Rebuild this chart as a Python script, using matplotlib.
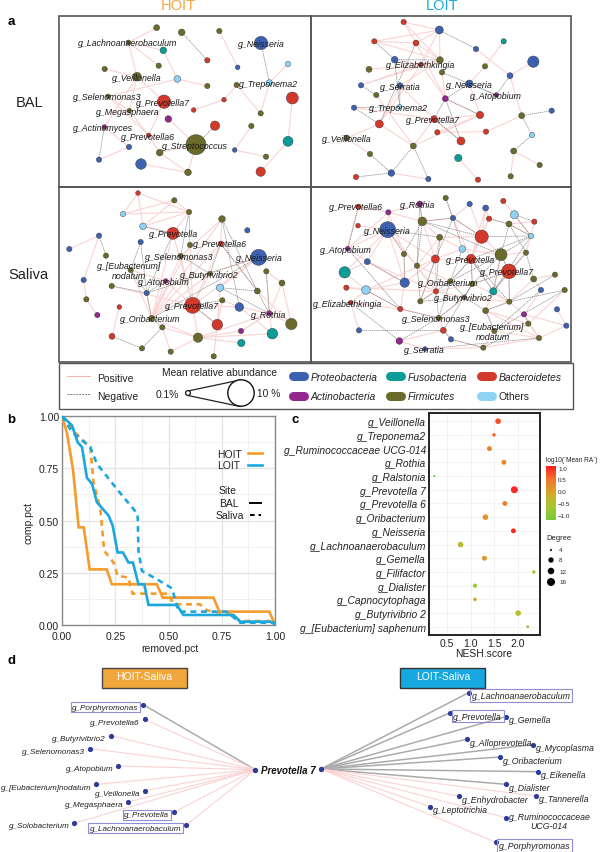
import numpy as np
import matplotlib
matplotlib.use("Agg")
import matplotlib.pyplot as plt
from matplotlib.colors import LinearSegmentedColormap, Normalize
from matplotlib.patches import Rectangle, Circle

plt.rcParams['font.family'] = ['Liberation Sans', 'DejaVu Sans']

W, H = 600, 853
PHY = {'P': '#3C62AF', 'U': '#0C9C98', 'B': '#D2392A', 'A': '#93278F', 'F': '#6A6B2B', 'O': '#8DD3F5'}
POS = '#FBD3D3'
NEG = '#858585'
ORANGE = '#F59B2B'
BLUE = '#1AA7E0'

# ---------- network a: HOIT BAL ----------
HB_x = [470,545,658,783,385,490,622,476,713,864,314,411,532,622,808,710,324,877,492,672,581,388,782,505,645,754,313,446,387,588,864,704,479,798,297,423,564,782]
HB_y = [86,100,96,132,130,154,184,200,205,195,210,233,240,261,251,258,292,297,308,302,333,335,343,360,380,381,384,409,444,437,427,453,461,473,482,495,520,518]
HB_r = [9,10,8,20,7,10,8,8,7,8,8,13,10,8,9,8,7,18,20,7,7,7,8,10,14,8,7,7,8,30,15,7,10,8,8,16,10,14]
HB_p = list("FFFPFUBFPOFFOFOFFBBBBFFABFABPFUPFFPPFB")
HB_pos = [(0,4),(4,5),(4,7),(4,11),(5,12),(10,11),(11,18),(11,21),(12,13),(12,16),(2,8),(9,14),(14,22),(15,19),(15,22),(19,20),(11,26),(18,27),(21,27),(16,21),(16,27),(26,28),(28,34),(23,29),(25,31),(31,33),(17,30),(30,37),(29,32),(29,36),(32,36),(35,36),(32,27)]
HB_neg = [(1,6),(3,14),(24,29),(26,34)]
HB_lab = [("g_Lachnoanaerobaculum",233,131),("g_Neisseria",713,134),("g_Veillonella",336,234),("g_Treponema2",716,252),("g_Selenomonas3",218,292),("g_Prevotella7",408,310),("g_Megasphaera",288,336),("g_Actinomyces",220,386),("g_Prevotella6",363,411),("g_Streptococcus",486,438)]

# ---------- network a: LOIT BAL ----------
LB_x = [296,403,208,333,513,596,269,405,348,685,192,411,540,615,168,285,493,214,574,147,284,421,740,525,650,223,387,397,543,681,125,468,325,195,626,460,704,259,153,370,519,617]
LB_y = [69,93,127,132,150,127,182,183,196,188,211,220,202,230,259,260,254,288,288,326,323,299,335,348,350,375,360,400,398,408,417,426,441,465,456,477,498,522,534,540,542,532]
LB_r = [8,12,8,9,8,8,10,10,7,17,9,8,8,9,8,9,11,8,7,8,7,9,8,11,9,12,10,8,8,8,9,12,9,8,9,11,8,10,8,8,8,8]
LB_p = list("BPBBPUPFBPFFFPPPPFAPOAPBFBBBBOFBFFFUFPBPBF")
LB_pos = [(0,1),(0,3),(0,7),(2,1),(2,3),(2,7),(3,7),(1,7),(3,1),(1,8),(4,13),(5,12),(12,16),(9,13),(13,24),(10,8),(14,8),(14,7),(15,7),(8,21),(6,8),(16,23),(21,23),(23,26),(23,32),(26,15),(26,19),(25,30),(25,15),(25,8),(30,33),(32,26),(32,25),(17,32),(24,28),(27,28),(27,23),(26,31),(35,40),(34,36),(34,41),(37,39),(21,3),(11,21)]
LB_neg = [(2,6),(6,7),(14,17),(19,20),(19,25),(25,3),(15,20),(11,18),(13,18),(16,21),(21,31),(21,26),(21,23),(26,31),(22,24),(24,29),(29,34),(32,37),(32,39),(33,37),(37,38),(1,4),(16,18),(20,6)]
LB_lab = [("g_Elizabethkingia",242,197),("g_Serratia",226,261),("g_Neisseria",424,255),("g_Atopobium",495,289),("g_Treponema2",191,324),("g_Prevotella7",303,360),("g_Veillonella",51,418)]

# ---------- network a: HOIT Saliva ----------
HS_x = [414,523,369,567,429,666,519,742,297,208,422,570,662,318,542,776,392,799,630,251,497,846,335,660,772,440,578,667,259,718,358,292,455,808,652,874,487,723,817,594,336,724,426,512,641]
HS_y = [27,49,90,84,127,105,148,139,155,195,174,183,179,215,216,220,258,262,269,288,291,297,306,311,321,327,364,349,346,369,369,393,403,388,422,420,430,441,449,461,457,477,493,503,517]
HS_r = [7,8,8,8,10,10,18,8,8,8,8,8,8,8,8,24,8,8,7,8,7,9,8,11,9,8,24,8,8,13,7,8,9,8,16,17,8,8,16,14,9,11,8,8,8]
HS_p = list("BFOFOFBPPPPFBFFPFFFPAFFOFPBFFPBAFABFFAUFBUFFF")
HS_pos = [(0,2),(0,4),(0,3),(1,2),(1,3),(1,4),(2,3),(3,4),(8,9),(8,19),(19,28),(28,31),(4,6),(3,6),(5,12),(5,14),(5,32),(12,32),(11,32),(14,32),(18,32),(6,32),(20,32),(16,32),(25,32),(12,26),(14,26),(11,26),(6,26),(18,26),(16,20),(20,26),(22,26),(26,29),(26,34),(27,29),(29,33),(17,33),(15,23),(15,18),(15,26),(23,34),(29,38),(33,38),(33,35),(21,33),(21,35),(17,21),(39,41),(39,37),(39,38),(39,43),(36,39),(36,43),(26,39),(34,44),(33,37),(30,40),(37,33),(24,35),(12,24),(27,34),(39,33),(32,39)]
HS_neg = [(3,11),(3,14),(4,6),(5,24),(5,29),(8,13),(10,16),(10,25),(12,18),(12,24),(15,25),(15,32),(16,25),(22,25),(23,24),(25,32),(6,25),(26,34),(17,33),(24,33),(27,26),(40,42),(42,36),(36,32),(14,18),(20,25),(23,33)]
HS_lab = [("g_Prevotella",446,149),("g_Prevotella6",580,179),("g_Selenomonas3",435,217),("g_Neisseria",707,221),("g_[Eubacterium]",291,243),("nodatum",337,274),("g_Butyrivibrio2",539,270),("g_Atopobium",415,292),("g_Prevotella7",494,365),("g_Rothia",752,390),("g_Oribacterium",361,404)]

# ---------- network a: LOIT Saliva ----------
LS_x = [422,595,494,542,344,160,250,628,444,552,688,352,612,159,248,530,404,678,472,128,588,663,297,391,498,187,336,119,612,750,299,686,436,502,124,183,708,779,393,565,478,346,613,137,286,542,756,657,401,670,784,162,415,568,702,283,438,360,535]
LS_y = [42,51,60,72,60,68,85,92,102,104,113,112,120,125,137,158,160,156,195,194,212,206,210,225,225,233,245,265,262,272,296,285,292,300,311,318,318,318,322,322,340,352,353,356,375,380,376,391,402,419,425,439,439,441,462,471,466,495,491]
LS_r = [8,8,8,9,9,8,8,12,8,8,8,13,9,7,24,20,9,8,10,7,18,8,8,12,14,9,8,17,22,8,14,9,8,8,8,13,8,8,8,11,7,8,8,7,8,9,8,8,8,8,8,8,9,8,8,10,8,7,8]
LS_p = list("FBPPABAOPBBFFBPBFOOAFFFBBPFUBFPFFFBOPFBUFFFBBFPAFFPPBFFAPPF")
LS_pos = [(6,14),(5,6),(6,11),(4,6),(6,22),(11,8),(11,16),(8,15),(8,2),(2,15),(3,15),(3,9),(9,15),(9,12),(12,17),(7,17),(1,7),(15,20),(15,24),(15,16),(16,23),(16,18),(18,23),(23,24),(23,30),(22,30),(14,25),(14,27),(14,30),(14,23),(25,27),(25,30),(27,35),(35,34),(35,30),(35,23),(34,38),(38,23),(38,26),(26,16),(26,32),(32,24),(24,33),(33,28),(28,20),(28,39),(39,42),(42,28),(42,31),(31,29),(31,36),(36,47),(47,50),(46,50),(47,54),(54,50),(54,49),(49,37),(42,47),(45,49),(45,42),(45,39),(45,54),(53,54),(53,45),(52,48),(48,44),(44,35),(52,55),(55,57),(57,58),(58,54),(58,53),(56,52),(56,58),(48,40),(40,38),(40,33),(38,33),(41,23),(41,38),(4,11),(11,23),(14,26),(14,38),(25,38),(19,25),(19,14),(5,19),(13,14),(6,19),(43,35),(43,44),(44,30),(51,43),(21,20),(21,28),(17,21),(10,17),(10,12),(8,24),(0,8),(18,20),(9,24),(3,24),(20,39),(24,39),(33,42),(40,42)]
LS_neg = [(0,8),(7,10),(7,17),(8,11),(8,18),(8,15),(8,23),(11,22),(11,26),(11,15),(11,20),(4,11),(4,26),(12,17),(12,20),(12,21),(17,20),(17,24),(17,39),(20,32),(20,33),(20,39),(20,28),(15,17),(24,32),(24,33),(24,42),(24,39),(28,33),(28,42),(21,31),(21,39),(18,32),(16,38),(23,41),(32,40),(32,48),(33,40),(33,52),(40,48),(40,41),(38,48),(14,22),(22,30),(25,30),(5,19),(19,44),(35,44),(44,48),(48,55),(55,43),(51,52),(52,56),(56,58),(45,40),(45,42),(45,53),(42,37),(42,29),(53,36),(53,37),(57,54),(58,49),(49,47),(26,41),(41,32),(16,14),(9,12)]
LS_lab = [("g_Prevotella6",73,68),("g_Rothia",285,61),("g_Neisseria",176,138),("g_Atopobium",45,195),("g_Prevotella",422,226),("g_Prevotella7",525,262),("g_Oribacterium",340,294),("g_Elizabethkingia",25,358),("g_Butyrivibrio2",386,341),("g_Selenomonas3",291,403),("g_[Eubacterium]",465,428),("nodatum",512,458),("g_Serratia",298,497)]

# ---------- panel b ----------
HB_rx = [0,.023,.052,.078,.102,.13,.21,.234,.445,.473,.711,.739,.973,1.0]
HB_ry = [1,.92,.742,.467,.467,.266,.266,.195,.195,.131,.131,.064,.064,.003]
HS_rx = [0,.0625,.133,.148,.18,.198,.242,.261,.312,.331,.5,.523,.648,.68,.805,.836,1]
HS_ry = [1,.92,.85,.683,.555,.355,.299,.235,.227,.15,.15,.099,.099,.07,.048,.019,.019]
LB_rx = [0,.047,.073,.094,.117,.141,.164,.219,.238,.261,.286,.312,.333,.359,.386,.406,.539,.57,.805,.836,.977,1]
LB_ry = [1,.955,.875,.851,.704,.675,.587,.523,.475,.347,.347,.299,.299,.195,.195,.096,.096,.048,.048,.016,.016,.003]
LS_rx = [0,.047,.133,.164,.266,.355,.359,.375,.445,.516,.547,.773,.836,1]
LS_ry = [1,.923,.851,.771,.64,.531,.355,.259,.219,.176,.064,.064,.011,.011]
b_ticks = [0, .25, .5, .75, 1.0]
b_ticklabels = ['0.00', '0.25', '0.50', '0.75', '1.00']

# ---------- panel c ----------
c_genus = ["g_Veillonella","g_Treponema2","g_Ruminococcaceae UCG-014","g_Rothia","g_Ralstonia","g_Prevotella 7","g_Prevotella 6","g_Oribacterium","g_Neisseria","g_Lachnoanaerobaculum","g_Gemella","g_Filifactor","g_Dialister","g_Capnocytophaga","g_Butyrivibrio 2","g_[Eubacterium] saphenum"]
c_nesh = [1.577,1.49,1.395,1.70,0.234,1.92,1.72,1.31,1.90,0.787,1.29,2.33,1.09,1.09,2.0,2.2]
c_ra = [0.75,0.6,0.35,0.3,-1.2,1.0,0.4,0.15,1.0,-0.45,0.1,-0.6,-0.8,0.0,-0.5,-1.0]
c_deg = [8,5,7,7,3,12,7,8,7,8,7,5,6,5,8,4]
c_xticks = [0.5, 1.0, 1.5, 2.0]
deg_levels = [4, 8, 12, 16]
ra_ticks = [1.0, 0.5, 0.0, -0.5, -1.0]

# ---------- panel d ----------
DL_names = ["g_Porphyromonas","g_Prevotella6","g_Butyrivibrio2","g_Selenomonas3","g_Atopobium","g_[Eubacterium]nodatum","g_Veillonella","g_Megasphaera","g_Prevotella","g_Solobacterium","g_Lachnoanaerobaculum"]
DL_x = [430,434,332,270,355,289,435,385,522,223,558]
DL_y = [182,226,275,314,366,421,440,474,505,538,544]
DL_ly = [190,235,284,323,375,430,449,483,513,546,553]
DL_sign = ['-','+','+','+','+','+','+','+','+','+','+']
DL_box = [1,0,0,0,0,0,0,0,1,0,1]
DR_names = ["g_Lachnoanaerobaculum","g_Prevotella","g_Gemella","g_Alloprevotella","g_Mycoplasma","g_Oribacterium","g_Eikenella","g_Dialister","g_Tannerella","g_Enhydrobacter","g_Leptotrichia","g_Ruminococcaceae","g_Porphyromonas"]
DR_x = [506,451,617,501,698,601,714,619,709,478,391,617,587]
DR_y = [146,206,218,286,302,339,383,421,456,457,488,521,595]
DR_ly = [155,216,227,296,311,348,392,430,465,466,497,517,604]
DR_sign = ['-','-','-','-','-','-','-','-','+','+','+','+','+']
DR_box = [1,1,0,0,0,0,0,0,0,0,0,0,1]

fig = plt.figure(figsize=(6, 8.53), dpi=100)
fig.patch.set_facecolor('white')
ov = fig.add_axes([0, 0, 1, 1], zorder=5)
ov.set_xlim(0, W); ov.set_ylim(H, 0); ov.axis('off'); ov.patch.set_alpha(0)


def area(r_px):
    return (2 * np.asarray(r_px, float) * 0.72) ** 2


def network(x, y, r, p, pos, neg, lab, ox, oy):
    X = np.array(x) / 3 + ox
    Y = np.array(y) / 3 + oy
    for a, b in pos:
        ov.plot([X[a], X[b]], [Y[a], Y[b]], color=POS, lw=0.8, zorder=1, solid_capstyle='butt')
    for a, b in neg:
        ov.plot([X[a], X[b]], [Y[a], Y[b]], color=NEG, lw=0.5, ls=(0, (2, 1)), zorder=2)
    ov.scatter(X, Y, s=area(np.array(r) / 3), c=[PHY[k] for k in p], edgecolors='#333333', linewidths=0.3, zorder=3)
    for t, lx, ly in lab:
        ov.text(lx / 3 + ox, ly / 3 + oy, t, style='italic', fontsize=6.4, color='#1a1a1a', ha='left', va='center', zorder=4)


network(HB_x, HB_y, HB_r, HB_p, HB_pos, HB_neg, HB_lab, 0, 0)
network(LB_x, LB_y, LB_r, LB_p, LB_pos, LB_neg, LB_lab, 305, 0)
network(HS_x, HS_y, HS_r, HS_p, HS_pos, HS_neg, HS_lab, 0, 185)
network(LS_x, LS_y, LS_r, LS_p, LS_pos, LS_neg, LS_lab, 305, 185)

# frames
ov.add_patch(Rectangle((58.5, 17), 512.5, 346, fill=False, ec='#555555', lw=1.2, zorder=4))
ov.plot([311, 311], [17, 363], color='#555555', lw=1.4, zorder=4)
ov.plot([58.5, 571], [188, 188], color='#555555', lw=1.4, zorder=4)
ov.text(178, 6, "HOIT", color='#F5A742', fontsize=10.5, ha='center', va='center')
ov.text(442, 6, "LOIT", color=BLUE, fontsize=10.5, ha='center', va='center')
ov.text(30, 103, "BAL", fontsize=10.5, color='#222222', ha='center', va='center')
ov.text(28, 275, "Saliva", fontsize=10.5, color='#222222', ha='center', va='center')
for t, lx, ly in [("a", 11, 22), ("b", 11, 420), ("c", 295, 420), ("d", 11, 661)]:
    ov.text(lx, ly, t, fontweight='bold', fontsize=9.5, ha='center', va='center', color='black')

# legend strip
ov.add_patch(Rectangle((58.5, 364), 514.5, 46, fc='white', ec='#555555', lw=1.0, zorder=1))
ov.plot([67, 90], [376.5, 376.5], color='#F5B5B5', lw=0.8)
ov.plot([67, 90], [395, 395], color=NEG, lw=0.7, ls=(0, (2, 1)))
ov.text(97, 379, "Positive", fontsize=7.5, va='center', color='#222222')
ov.text(97, 396.5, "Negative", fontsize=7.5, va='center', color='#222222')
ov.text(220, 373, "Mean relative abundance", fontsize=7.4, ha='center', va='center', color='#222222')
ov.text(156, 395, "0.1%", fontsize=7.4, va='center', color='#222222')
ov.text(257, 394, "10 %", fontsize=7.4, va='center', color='#222222')
ov.plot([188, 240], [392, 381], color='#222222', lw=0.9)
ov.plot([188, 240], [396.5, 407.5], color='#222222', lw=0.9)
ov.add_patch(Circle((241, 394), 13.2, fc='white', ec='#111111', lw=1.0, zorder=3))
ov.add_patch(Circle((188, 394), 2.4, fc='white', ec='#111111', lw=0.9, zorder=3))
legend_names = [("Proteobacteria", 'P', 288, 377), ("Fusobacteria", 'U', 385, 377), ("Bacteroidetes", 'B', 476, 377),
                ("Actinobacteria", 'A', 288, 397), ("Firmicutes", 'F', 385, 397), ("Others", 'O', 476, 397)]
for t, k, lx, ly in legend_names:
    ov.plot([lx + 4.5, lx + 16], [ly, ly], color=PHY[k], lw=6.5, solid_capstyle='round', zorder=2)
    ov.text(lx + 22.5, ly + 0.5, t, fontsize=7.4, style='normal' if k == 'O' else 'italic', va='center', color='#222222')


def px_axes(l, t, r, b):
    return fig.add_axes([l / W, 1 - b / H, (r - l) / W, (b - t) / H])


# panel b
axb = px_axes(62, 417, 275, 626)
axb.plot(HB_rx, HB_ry, color=ORANGE, lw=1.9, solid_joinstyle='miter', zorder=3)
axb.plot(HS_rx, HS_ry, color=ORANGE, lw=1.9, ls=(0, (2.2, 1.8)), zorder=3)
axb.plot(LB_rx, LB_ry, color=BLUE, lw=1.9, solid_joinstyle='miter', zorder=4)
axb.plot(LS_rx, LS_ry, color=BLUE, lw=1.9, ls=(0, (2.2, 1.8)), zorder=4)
axb.set_xlim(0, 1); axb.set_ylim(0, 1)
axb.set_xticks(b_ticks); axb.set_xticklabels(b_ticklabels)
axb.set_yticks(b_ticks); axb.set_yticklabels(b_ticklabels)
axb.set_xticks([.125, .375, .625, .875], minor=True); axb.set_yticks([.125, .375, .625, .875], minor=True)
axb.grid(True, which='major', color='#E4E4E4', lw=0.9)
axb.grid(True, which='minor', color='#EFEFEF', lw=0.6)
axb.set_axisbelow(True)
axb.tick_params(which='both', length=0, labelsize=7.5, labelcolor='#222222')
axb.tick_params(axis='x', pad=4)
axb.tick_params(axis='y', pad=2)
for s in axb.spines.values():
    s.set_color('#8A8A8A'); s.set_linewidth(1.0)
ov.text(170, 649, "removed.pct", fontsize=7.5, ha='center', va='center', color='#222222')
ov.text(28, 523, "comp.pct", fontsize=7.5, rotation=90, ha='center', va='center', color='#222222')
ov.text(229, 455, "HOIT", fontsize=7.5, ha='center', va='center', color='#222222')
ov.text(229, 466, "LOIT", fontsize=7.5, ha='center', va='center', color='#222222')
ov.plot([248, 262], [454, 454], color=ORANGE, lw=1.9)
ov.plot([248, 262], [466, 466], color=BLUE, lw=1.9)
ov.text(228, 491, "Site", fontsize=7.5, ha='center', va='center', color='#222222')
ov.text(229, 504, "BAL", fontsize=7.5, ha='center', va='center', color='#222222')
ov.text(230, 516, "Saliva", fontsize=7.5, ha='center', va='center', color='#222222')
ov.plot([250, 261], [504, 504], color='black', lw=1.4)
ov.plot([250, 261], [516, 516], color='black', lw=1.4, ls=(0, (2.4, 2)))

# panel c
cmap = LinearSegmentedColormap.from_list('ra', ['#78C83C', '#A9C832', '#D9A62A', '#F0762A', '#FF1F1F'])
norm = Normalize(-1.23, 1.07)
axc = px_axes(429, 414, 540, 636)
ypos = np.arange(len(c_genus))
axc.scatter(c_nesh, ypos, s=area(np.interp(c_deg, [3, 4, 8, 12, 16], [1.1, 1.4, 2.8, 3.5, 4.2])), c=c_ra, cmap=cmap, norm=norm, linewidths=0, zorder=3)
axc.set_ylim(len(c_genus) - 0.4, -0.6)
axc.set_xlim(0.122, 2.46)
axc.set_yticks(ypos); axc.set_yticklabels(c_genus, style='italic', fontsize=7.4, color='#222222')
axc.set_xticks(c_xticks); axc.set_xticklabels(['0.5', '1.0', '1.5', '2.0'])
axc.tick_params(axis='x', length=0, labelsize=7.5, pad=2, labelcolor='#222222')
axc.tick_params(axis='y', length=0, pad=2)
axc.grid(True, color='#F1F1F1', lw=0.6); axc.set_axisbelow(True)
for s in axc.spines.values():
    s.set_color('#222222'); s.set_linewidth(1.4)
ov.text(484, 654, "NESH.score", fontsize=7.5, ha='center', va='center', color='#222222')

axcb = px_axes(546, 467, 556, 521)
axcb.imshow(np.linspace(1.07, -1.23, 200).reshape(-1, 1), aspect='auto', cmap=cmap, norm=norm, extent=[0, 1, -1.23, 1.07])
axcb.set_xticks([]); axcb.yaxis.tick_right()
axcb.set_yticks(ra_ticks); axcb.set_yticklabels(['1.0', '0.5', '0.0', '\u22120.5', '\u22121.0'])
axcb.tick_params(axis='y', length=0, labelsize=4.5, pad=1.5, labelcolor='#222222')
for s in axcb.spines.values():
    s.set_visible(False)
ov.text(546, 460, "log10(`Mean RA`)", fontsize=4.7, va='center', color='#222222')
ov.text(546, 538, "Degree", fontsize=5.5, va='center', color='#222222')
deg_y = [551, 561, 572, 583]
ov.scatter([551] * 4, deg_y, s=area(np.interp(deg_levels, [4, 8, 12, 16], [1.0, 2.7, 3.3, 4.0])), c='black', linewidths=0)
for d, yy in zip(deg_levels, deg_y):
    ov.text(559, yy, str(d), fontsize=4.5, va='center', color='#222222')

# panel d
ov.add_patch(Rectangle((102, 668.5), 84.5, 20.5, fc='#F0A73C', ec='#444444', lw=1.0))
ov.text(144, 677.5, "HOIT-Saliva", color='white', fontsize=7.5, ha='center', va='center')
ov.add_patch(Rectangle((400, 668.5), 84.5, 20.5, fc='#18A8E0', ec='#333333', lw=1.0))
ov.text(443, 677.5, "LOIT-Saliva", color='white', fontsize=7.5, ha='center', va='center')

NODE = '#2B3C98'
cxL, cyL = 255.3, 770.7
cxR, cyR = 321, 770
boxc = '#8E8ED6'


def spokes(names, xs, ys, lys, signs, boxes, ox, cx, cy, side, fs):
    for n, zx, zy, ly, sg, bx in zip(names, xs, ys, lys, signs, boxes):
        px = zx / 3 + ox
        py = zy / 3 + 645
        yy = ly / 3 + 645
        ov.plot([cx, px], [cy, py], color='#ABABAB' if sg == '-' else POS, lw=1.1 if sg == '-' else 0.8, zorder=1)
        ov.scatter([px], [py], s=area(2.6), c=NODE, linewidths=0, zorder=3)
        tx = px - 4.7 if side == 'L' else px + 3
        bbox = dict(boxstyle='square,pad=0.2', fc='none', ec=boxc, lw=0.8) if bx else None
        ov.text(tx, yy, n, style='italic', fontsize=fs, color='#222222', ha='right' if side == 'L' else 'left', va='center', bbox=bbox, zorder=4)


spokes(DL_names, DL_x, DL_y, DL_ly, DL_sign, DL_box, 0, cxL, cyL, 'L', 5.85)
spokes(DR_names, DR_x, DR_y, DR_ly, DR_sign, DR_box, 300, cxR, cyR, 'R', 6.3)
ov.text(549, 645 + 545 / 3, "UCG-014", style='italic', fontsize=6.3, color='#222222', ha='center', va='center')
ov.scatter([cxL, cxR], [cyL, cyR], s=area(2.7), c=NODE, linewidths=0, zorder=3)
ov.text(288, 771, "Prevotella 7", style='italic', fontweight='bold', fontsize=7.0, color='#111111', ha='center', va='center', zorder=4)

fig.savefig('out.png', dpi=100, facecolor='white')
